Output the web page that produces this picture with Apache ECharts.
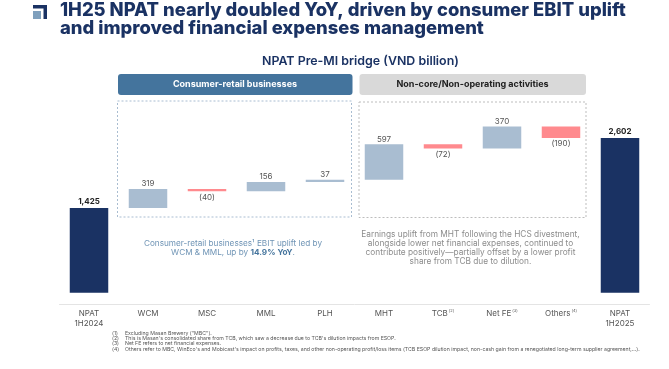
<!DOCTYPE html>
<html><head><meta charset="utf-8">
<style>html,body{margin:0;padding:0;background:#fff}#c{width:669px;height:369px;filter:blur(0.35px)}</style>
<script src="https://cdn.jsdelivr.net/npm/echarts@6/dist/echarts.min.js"></script></head>
<body><div id="c"></div>
<script>
const categories = ['NPAT\n1H2024','WCM','MSC','MML','PLH','MHT','TCB','Net FE','Others','NPAT\n1H2025'];
const superscripts = ['','','','','','','(2)','(3)','(4)',''];
const totals = [1425,null,null,null,null,null,null,null,null,2602];
const deltas = [null,319,-40,156,37,597,-72,370,-190,null];
const titleText = '1H25 NPAT nearly doubled YoY, driven by consumer EBIT uplift\nand improved financial expenses management';
const subtitleText = 'NPAT Pre-MI bridge (VND billion)';
const headerLeft = 'Consumer-retail businesses';
const headerRight = 'Non-core/Non-operating activities';
const noteRight = 'Earnings uplift from MHT following the HCS divestment,\nalongside lower net financial expenses, continued to\ncontribute positively—partially offset by a lower profit\nshare from TCB due to dilution.';
const footMarks = ['(1)','(2)','(3)','(4)'];
const footNotes = [
 'Excluding Masan Brewery ("MBC").',
 "This is Masan's consolidated share from TCB, which saw a decrease due to TCB's dilution impacts from ESOP.",
 'Net FE refers to net financial expenses.',
 "Others refer to MBC, WinEco's and Mobicast's impact on profits, taxes, and other non-operating profit/loss items (TCB ESOP dilution impact, non-cash gain from a renegotiated long-term supplier agreement,...)."
];
const FONT = 'Inter, "Open Sans", sans-serif';
let run = 0;
const base = [], rises = [], falls = [];
categories.forEach((c,i)=>{
  if (totals[i] !== null) { run = totals[i]; base.push(0); rises.push(null); falls.push(null); return; }
  const d = deltas[i];
  if (d >= 0) { base.push(run); rises.push(d); falls.push(null); run += d; }
  else { run += d; base.push(run); rises.push(null); falls.push(-d); }
});
const catLabels = categories.map((c,i)=> superscripts[i] ? c + '{s|' + superscripts[i] + '}' : c);
const fmt = n => n.toLocaleString('en-US');
const texts = [];
footMarks.forEach((m,i)=>{
  const y = [333,338.3,343.6,349][i];
  texts.push({type:'text',x:112,y,style:{text:m,font:'5.2px '+FONT,fill:'#555',verticalAlign:'middle'},silent:true});
  texts.push({type:'text',x:125,y,style:{text:footNotes[i],font:'5.2px '+FONT,fill:'#555',verticalAlign:'middle'},silent:true});
});
const chart = echarts.init(document.getElementById('c'),null,{renderer:'canvas'});
chart.setOption({
  animation:false,
  backgroundColor:'#fff',
  title:[
    {text:titleText,left:60,top:1,padding:0,textStyle:{fontFamily:FONT,fontSize:18.4,fontWeight:800,color:'#1a3263',lineHeight:18.5}},
    {text:subtitleText,left:262,top:55,padding:0,textStyle:{fontFamily:FONT,fontSize:12.4,fontWeight:600,color:'#1a3263'}}
  ],
  grid:{left:59.5,width:590,top:125.5,bottom:65},
  xAxis:{type:'category',data:catLabels,
    axisLine:{onZero:false,lineStyle:{color:'#e4e4e4',width:1}},axisTick:{show:false},
    axisLabel:{interval:0,fontFamily:FONT,fontSize:8,color:'#555',lineHeight:9.5,margin:5,
      rich:{s:{fontFamily:FONT,fontSize:4,color:'#555',verticalAlign:'top',padding:[0,0,4,1]}}}},
  yAxis:{type:'value',min:-190,max:2810,show:false,splitLine:{show:false}},
  series:[
    {name:'base',type:'bar',stack:'w',data:base,barWidth:38.5,itemStyle:{color:'transparent'},silent:true},
    {name:'Total',type:'bar',stack:'w',data:totals,itemStyle:{color:'#1a3263'},
      label:{show:true,position:'top',distance:2,fontFamily:FONT,fontSize:8,fontWeight:700,color:'#222',formatter:p=>fmt(p.value)}},
    {name:'Increase',type:'bar',stack:'w',data:rises,itemStyle:{color:'#a9bdd1'},
      label:{show:true,position:'top',distance:1,fontFamily:FONT,fontSize:8,color:'#555',formatter:p=>fmt(p.value)}},
    {name:'Decrease',type:'bar',stack:'w',data:falls,itemStyle:{color:'#ff8a8e'},
      label:{show:true,position:'bottom',distance:2,fontFamily:FONT,fontSize:8,color:'#555',formatter:p=>'('+fmt(p.value)+')'}}
  ],
  graphic:[
    {type:'group',silent:true,children:[
      {type:'rect',shape:{x:33,y:5,width:14,height:3.5},style:{fill:'#1a3263'}},
      {type:'rect',shape:{x:43.5,y:5,width:3.5,height:14},style:{fill:'#1a3263'}},
      {type:'rect',shape:{x:33,y:11,width:8,height:8},style:{fill:'#7fa0bd'}},
      {type:'rect',shape:{x:118,y:74,width:234.5,height:21,r:3},style:{fill:'#44749d'}},
      {type:'rect',shape:{x:359.5,y:74,width:226.5,height:21,r:3},style:{fill:'#d9d9d9'}},
      {type:'text',x:235,y:84.5,style:{text:headerLeft,font:'700 9px '+FONT,fill:'#fff',align:'center',verticalAlign:'middle'}},
      {type:'text',x:472.5,y:84.5,style:{text:headerRight,font:'700 9px '+FONT,fill:'#222',align:'center',verticalAlign:'middle'}},
      {type:'rect',shape:{x:117.5,y:101,width:234,height:116},style:{fill:'none',stroke:'#a9bdd1',lineWidth:1,lineDash:[2,2]}},
      {type:'rect',shape:{x:359,y:102,width:227,height:115.5},style:{fill:'none',stroke:'#bdbdbd',lineWidth:1,lineDash:[2,2]}},
      {type:'text',x:233,y:248,style:{
        text:'{a|Consumer-retail businesses¹ EBIT uplift led by}\n{a|WCM & MML, up by }{b|14.9% YoY}{a|.}',
        align:'center',verticalAlign:'middle',
        rich:{a:{fontFamily:FONT,fontSize:8.2,fill:'#6f94b5',lineHeight:9.5},b:{fontFamily:FONT,fontSize:8.2,fontWeight:700,fill:'#44749d',lineHeight:9.5}}}},
      {type:'text',x:470.5,y:248.5,style:{text:noteRight,font:'8.3px '+FONT,fill:'#8c8c8c',align:'center',verticalAlign:'middle',lineHeight:9}},
      ...texts
    ]}
  ]
});
</script></body></html>
